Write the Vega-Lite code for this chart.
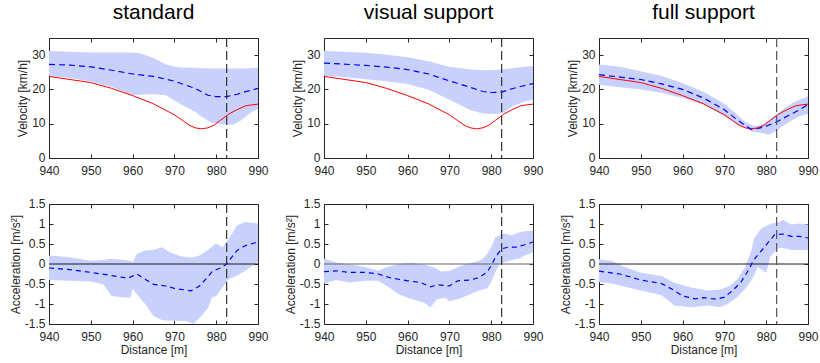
{
  "$schema": "https://vega.github.io/schema/vega-lite/v6.json",
  "padding": {"left": 9, "top": 2, "right": 5, "bottom": 5},
  "bounds": "flush",
  "columns": 3,
  "spacing": {"row": 46, "column": 66},
  "datasets": {
    "ref": [
      {"x": 940, "v": 23.8}, {"x": 945, "v": 22.9}, {"x": 950, "v": 22.0}, {"x": 955, "v": 20.3},
      {"x": 960, "v": 18.2}, {"x": 965, "v": 15.8}, {"x": 970, "v": 12.6}, {"x": 972, "v": 10.9},
      {"x": 973.5, "v": 9.6}, {"x": 975, "v": 8.8}, {"x": 976.5, "v": 8.5}, {"x": 978, "v": 8.8},
      {"x": 979.5, "v": 9.6}, {"x": 981, "v": 11.0}, {"x": 983, "v": 12.8}, {"x": 985, "v": 14.1},
      {"x": 987, "v": 15.2}, {"x": 988.5, "v": 15.5}, {"x": 990, "v": 15.7}
    ],
    "marker": [{"x": 982.5}],
    "zero": [{"y": 0}],
    "vs_band": [
      {"x": 940, "lo": 24.0, "hi": 31.2}, {"x": 945, "lo": 23.3, "hi": 31.0}, {"x": 950, "lo": 22.3, "hi": 30.8},
      {"x": 955, "lo": 20.7, "hi": 30.8}, {"x": 960, "lo": 18.3, "hi": 30.8}, {"x": 962, "lo": 18.5, "hi": 30.5},
      {"x": 965, "lo": 18.6, "hi": 29.2}, {"x": 968, "lo": 18.3, "hi": 27.3}, {"x": 970, "lo": 16.8, "hi": 26.6},
      {"x": 972, "lo": 15.4, "hi": 26.4}, {"x": 975, "lo": 13.4, "hi": 26.3}, {"x": 977, "lo": 11.7, "hi": 26.2},
      {"x": 979, "lo": 10.2, "hi": 26.1}, {"x": 981, "lo": 9.9, "hi": 26.1}, {"x": 984, "lo": 9.7, "hi": 26.1},
      {"x": 986, "lo": 11.0, "hi": 26.1}, {"x": 988, "lo": 13.0, "hi": 26.2}, {"x": 990, "lo": 14.4, "hi": 26.3}
    ],
    "vs_mean": [
      {"x": 940, "m": 27.3}, {"x": 945, "m": 27.1}, {"x": 950, "m": 26.6}, {"x": 955, "m": 25.6},
      {"x": 960, "m": 24.5}, {"x": 965, "m": 23.8}, {"x": 970, "m": 22.4}, {"x": 975, "m": 20.3},
      {"x": 978, "m": 18.3}, {"x": 980, "m": 17.9}, {"x": 982.5, "m": 17.9}, {"x": 985, "m": 18.6},
      {"x": 987.5, "m": 19.5}, {"x": 990, "m": 20.3}
    ],
    "vv_band": [
      {"x": 940, "lo": 24.0, "hi": 31.2}, {"x": 945, "lo": 23.6, "hi": 31.0}, {"x": 950, "lo": 23.0, "hi": 30.7},
      {"x": 955, "lo": 22.4, "hi": 30.1}, {"x": 960, "lo": 21.6, "hi": 29.4}, {"x": 965, "lo": 19.9, "hi": 28.2},
      {"x": 970, "lo": 17.0, "hi": 26.6}, {"x": 975, "lo": 14.0, "hi": 25.8}, {"x": 978, "lo": 13.0, "hi": 25.6},
      {"x": 980, "lo": 12.8, "hi": 25.6}, {"x": 982.5, "lo": 13.0, "hi": 25.8}, {"x": 985, "lo": 15.0, "hi": 26.2},
      {"x": 988, "lo": 16.5, "hi": 26.6}, {"x": 990, "lo": 17.0, "hi": 26.8}
    ],
    "vv_mean": [
      {"x": 940, "m": 27.7}, {"x": 950, "m": 27.0}, {"x": 955, "m": 26.5}, {"x": 960, "m": 25.8},
      {"x": 965, "m": 24.5}, {"x": 970, "m": 22.5}, {"x": 975, "m": 20.6}, {"x": 978, "m": 19.4},
      {"x": 980, "m": 19.1}, {"x": 982.5, "m": 19.2}, {"x": 985, "m": 20.2}, {"x": 987.5, "m": 21.0},
      {"x": 990, "m": 21.7}
    ],
    "vf_band": [
      {"x": 940, "lo": 21.4, "hi": 27.3}, {"x": 945, "lo": 20.6, "hi": 26.6}, {"x": 950, "lo": 20.0, "hi": 25.3},
      {"x": 955, "lo": 19.0, "hi": 23.9}, {"x": 960, "lo": 17.5, "hi": 21.9}, {"x": 965, "lo": 15.6, "hi": 19.3},
      {"x": 970, "lo": 12.2, "hi": 15.8}, {"x": 973, "lo": 9.9, "hi": 12.7}, {"x": 975, "lo": 8.6, "hi": 10.5},
      {"x": 977, "lo": 7.6, "hi": 9.3}, {"x": 979, "lo": 7.3, "hi": 9.7}, {"x": 980.5, "lo": 6.8, "hi": 10.8},
      {"x": 982, "lo": 7.6, "hi": 12.3}, {"x": 984, "lo": 9.3, "hi": 14.2}, {"x": 986, "lo": 10.9, "hi": 15.8},
      {"x": 988, "lo": 12.2, "hi": 17.0}, {"x": 990, "lo": 12.9, "hi": 18.0}
    ],
    "vf_mean": [
      {"x": 940, "m": 24.3}, {"x": 945, "m": 23.6}, {"x": 950, "m": 22.9}, {"x": 955, "m": 21.6},
      {"x": 960, "m": 20.0}, {"x": 965, "m": 17.5}, {"x": 970, "m": 14.1}, {"x": 973, "m": 11.2},
      {"x": 975, "m": 9.5}, {"x": 976.5, "m": 8.3}, {"x": 978, "m": 8.6}, {"x": 980, "m": 9.3},
      {"x": 982.5, "m": 10.5}, {"x": 985, "m": 12.2}, {"x": 988, "m": 14.1}, {"x": 990, "m": 15.6}
    ],
    "as_band": [
      {"x": 940, "lo": -0.40, "hi": 0.21}, {"x": 945, "lo": -0.42, "hi": 0.17}, {"x": 950, "lo": -0.44, "hi": 0.08},
      {"x": 953, "lo": -0.51, "hi": 0.10}, {"x": 955, "lo": -0.80, "hi": 0.13}, {"x": 958, "lo": -0.84, "hi": 0.10},
      {"x": 959.5, "lo": -0.84, "hi": 0.08}, {"x": 960, "lo": -0.61, "hi": 0.04}, {"x": 961, "lo": -0.75, "hi": 0.25},
      {"x": 963, "lo": -1.00, "hi": 0.34}, {"x": 965, "lo": -1.30, "hi": 0.35}, {"x": 967, "lo": -1.40, "hi": 0.42},
      {"x": 969, "lo": -1.42, "hi": 0.29}, {"x": 971, "lo": -1.42, "hi": 0.21}, {"x": 973, "lo": -1.43, "hi": 0.17},
      {"x": 974.5, "lo": -1.50, "hi": 0.17}, {"x": 976, "lo": -1.35, "hi": 0.21}, {"x": 978, "lo": -1.10, "hi": 0.35},
      {"x": 979, "lo": -0.84, "hi": 0.43}, {"x": 980, "lo": -0.80, "hi": 0.51}, {"x": 981.5, "lo": -0.59, "hi": 0.42},
      {"x": 983, "lo": -0.38, "hi": 0.63}, {"x": 985, "lo": -0.29, "hi": 0.97}, {"x": 987, "lo": -0.17, "hi": 1.05},
      {"x": 990, "lo": 0.06, "hi": 1.01}
    ],
    "as_mean": [
      {"x": 940, "m": -0.10}, {"x": 945, "m": -0.14}, {"x": 950, "m": -0.21}, {"x": 955, "m": -0.29},
      {"x": 958, "m": -0.34}, {"x": 959, "m": -0.35}, {"x": 961, "m": -0.25}, {"x": 963, "m": -0.38},
      {"x": 965, "m": -0.51}, {"x": 968, "m": -0.55}, {"x": 970, "m": -0.61}, {"x": 974, "m": -0.67},
      {"x": 976, "m": -0.55}, {"x": 978, "m": -0.32}, {"x": 979, "m": -0.19}, {"x": 981, "m": -0.10},
      {"x": 982.5, "m": 0.0}, {"x": 984, "m": 0.21}, {"x": 985, "m": 0.34}, {"x": 987, "m": 0.46},
      {"x": 990, "m": 0.55}
    ],
    "av_band": [
      {"x": 940, "lo": -0.49, "hi": 0.13}, {"x": 943, "lo": -0.40, "hi": 0.04}, {"x": 946, "lo": -0.46, "hi": 0.0},
      {"x": 950, "lo": -0.42, "hi": -0.08}, {"x": 953, "lo": -0.42, "hi": -0.17}, {"x": 955, "lo": -0.55, "hi": -0.08},
      {"x": 958, "lo": -0.76, "hi": 0.0}, {"x": 961, "lo": -0.88, "hi": 0.04}, {"x": 963, "lo": -0.94, "hi": 0.0},
      {"x": 964, "lo": -0.97, "hi": -0.02}, {"x": 965.5, "lo": -1.08, "hi": -0.06}, {"x": 967, "lo": -0.88, "hi": -0.12},
      {"x": 968, "lo": -0.86, "hi": -0.19}, {"x": 969, "lo": -0.84, "hi": -0.18}, {"x": 970, "lo": -0.93, "hi": -0.17},
      {"x": 972, "lo": -0.88, "hi": -0.08}, {"x": 974, "lo": -0.80, "hi": 0.0}, {"x": 975, "lo": -0.75, "hi": 0.02},
      {"x": 977, "lo": -0.67, "hi": 0.08}, {"x": 978, "lo": -0.64, "hi": 0.13}, {"x": 979, "lo": -0.61, "hi": 0.25},
      {"x": 980, "lo": -0.45, "hi": 0.42}, {"x": 981, "lo": -0.20, "hi": 0.67}, {"x": 982, "lo": 0.0, "hi": 0.72},
      {"x": 983, "lo": 0.04, "hi": 0.76}, {"x": 985, "lo": 0.10, "hi": 0.72}, {"x": 987, "lo": 0.15, "hi": 0.80},
      {"x": 988, "lo": 0.21, "hi": 0.82}, {"x": 990, "lo": 0.29, "hi": 0.83}
    ],
    "av_mean": [
      {"x": 940, "m": -0.19}, {"x": 943, "m": -0.17}, {"x": 946, "m": -0.21}, {"x": 950, "m": -0.21},
      {"x": 953, "m": -0.25}, {"x": 956, "m": -0.35}, {"x": 960, "m": -0.42}, {"x": 963, "m": -0.46},
      {"x": 965.5, "m": -0.57}, {"x": 967, "m": -0.52}, {"x": 970, "m": -0.55}, {"x": 972, "m": -0.42},
      {"x": 975, "m": -0.40}, {"x": 977, "m": -0.34}, {"x": 979, "m": -0.21}, {"x": 980, "m": -0.04},
      {"x": 981, "m": 0.17}, {"x": 982.5, "m": 0.38}, {"x": 984, "m": 0.42}, {"x": 986, "m": 0.42},
      {"x": 988, "m": 0.48}, {"x": 990, "m": 0.55}
    ],
    "af_band": [
      {"x": 940, "lo": -0.45, "hi": 0.12}, {"x": 943, "lo": -0.49, "hi": 0.08}, {"x": 946, "lo": -0.56, "hi": -0.07},
      {"x": 950, "lo": -0.66, "hi": -0.22}, {"x": 955, "lo": -0.78, "hi": -0.30}, {"x": 958, "lo": -1.04, "hi": -0.47},
      {"x": 962, "lo": -1.08, "hi": -0.59}, {"x": 966, "lo": -1.04, "hi": -0.66}, {"x": 969, "lo": -1.08, "hi": -0.64},
      {"x": 971, "lo": -0.99, "hi": -0.56}, {"x": 973, "lo": -0.83, "hi": -0.40}, {"x": 975, "lo": -0.62, "hi": -0.07},
      {"x": 976.5, "lo": -0.40, "hi": 0.35}, {"x": 977, "lo": -0.30, "hi": 0.61}, {"x": 978, "lo": -0.07, "hi": 0.78},
      {"x": 979, "lo": -0.15, "hi": 0.90}, {"x": 980, "lo": -0.22, "hi": 0.95}, {"x": 981, "lo": 0.19, "hi": 1.0},
      {"x": 983, "lo": 0.40, "hi": 1.05}, {"x": 984, "lo": 0.40, "hi": 1.10}, {"x": 986, "lo": 0.35, "hi": 0.99},
      {"x": 988, "lo": 0.35, "hi": 1.01}, {"x": 990, "lo": 0.35, "hi": 0.99}
    ],
    "af_mean": [
      {"x": 940, "m": -0.18}, {"x": 945, "m": -0.25}, {"x": 950, "m": -0.40}, {"x": 955, "m": -0.49},
      {"x": 958, "m": -0.66}, {"x": 960, "m": -0.80}, {"x": 963, "m": -0.87}, {"x": 965, "m": -0.84},
      {"x": 968, "m": -0.88}, {"x": 970, "m": -0.83}, {"x": 972, "m": -0.66}, {"x": 974, "m": -0.45},
      {"x": 976, "m": -0.11}, {"x": 977, "m": 0.10}, {"x": 979, "m": 0.35}, {"x": 980, "m": 0.48},
      {"x": 982, "m": 0.73}, {"x": 984, "m": 0.75}, {"x": 986, "m": 0.69}, {"x": 988, "m": 0.69},
      {"x": 990, "m": 0.65}
    ]
  },
  "concat": [
    {
      "width": 209, "height": 120,
      "title": {"text": "standard"},
      "layer": [
        {"data": {"name": "vs_band"}, "mark": {"type": "area", "color": "#c8d0fc", "opacity": 1},
         "encoding": {
           "x": {"field": "x", "type": "quantitative", "scale": {"domain": [940, 990], "nice": false}, "axis": {"orient": "bottom", "values": [940, 950, 960, 970, 980, 990], "title": null}},
           "y": {"field": "lo", "type": "quantitative", "scale": {"domain": [0, 35], "nice": false}, "axis": {"orient": "left", "values": [0, 10, 20, 30], "title": "Velocity [km/h]"}},
           "y2": {"field": "hi"}}},
        {"data": {"name": "ref"}, "mark": {"type": "line", "color": "#ff0000", "strokeWidth": 1},
         "encoding": {
           "x": {"field": "x", "type": "quantitative", "axis": {"orient": "top", "values": [940, 950, 960, 970, 980, 990], "labels": false, "title": null}},
           "y": {"field": "v", "type": "quantitative", "axis": {"orient": "right", "values": [0, 10, 20, 30], "labels": false, "title": null}}}},
        {"data": {"name": "vs_mean"}, "mark": {"type": "line", "color": "#0000ff", "strokeDash": [6, 4], "strokeWidth": 1.2},
         "encoding": {"x": {"field": "x", "type": "quantitative", "axis": null}, "y": {"field": "m", "type": "quantitative", "axis": null}}},
        {"data": {"name": "marker"}, "mark": {"type": "rule", "color": "#333333", "strokeDash": [9, 4], "strokeWidth": 1.2},
         "encoding": {"x": {"field": "x", "type": "quantitative", "axis": null}}}
      ],
      "resolve": {"axis": {"x": "independent", "y": "independent"}}
    },
    {
      "width": 209, "height": 120,
      "title": {"text": "visual support"},
      "layer": [
        {"data": {"name": "vv_band"}, "mark": {"type": "area", "color": "#c8d0fc", "opacity": 1},
         "encoding": {
           "x": {"field": "x", "type": "quantitative", "scale": {"domain": [940, 990], "nice": false}, "axis": {"orient": "bottom", "values": [940, 950, 960, 970, 980, 990], "title": null}},
           "y": {"field": "lo", "type": "quantitative", "scale": {"domain": [0, 35], "nice": false}, "axis": {"orient": "left", "values": [0, 10, 20, 30], "title": "Velocity [km/h]"}},
           "y2": {"field": "hi"}}},
        {"data": {"name": "ref"}, "mark": {"type": "line", "color": "#ff0000", "strokeWidth": 1},
         "encoding": {
           "x": {"field": "x", "type": "quantitative", "axis": {"orient": "top", "values": [940, 950, 960, 970, 980, 990], "labels": false, "title": null}},
           "y": {"field": "v", "type": "quantitative", "axis": {"orient": "right", "values": [0, 10, 20, 30], "labels": false, "title": null}}}},
        {"data": {"name": "vv_mean"}, "mark": {"type": "line", "color": "#0000ff", "strokeDash": [6, 4], "strokeWidth": 1.2},
         "encoding": {"x": {"field": "x", "type": "quantitative", "axis": null}, "y": {"field": "m", "type": "quantitative", "axis": null}}},
        {"data": {"name": "marker"}, "mark": {"type": "rule", "color": "#333333", "strokeDash": [9, 4], "strokeWidth": 1.2},
         "encoding": {"x": {"field": "x", "type": "quantitative", "axis": null}}}
      ],
      "resolve": {"axis": {"x": "independent", "y": "independent"}}
    },
    {
      "width": 209, "height": 120,
      "title": {"text": "full support"},
      "layer": [
        {"data": {"name": "vf_band"}, "mark": {"type": "area", "color": "#c8d0fc", "opacity": 1},
         "encoding": {
           "x": {"field": "x", "type": "quantitative", "scale": {"domain": [940, 990], "nice": false}, "axis": {"orient": "bottom", "values": [940, 950, 960, 970, 980, 990], "title": null}},
           "y": {"field": "lo", "type": "quantitative", "scale": {"domain": [0, 35], "nice": false}, "axis": {"orient": "left", "values": [0, 10, 20, 30], "title": "Velocity [km/h]"}},
           "y2": {"field": "hi"}}},
        {"data": {"name": "ref"}, "mark": {"type": "line", "color": "#ff0000", "strokeWidth": 1},
         "encoding": {
           "x": {"field": "x", "type": "quantitative", "axis": {"orient": "top", "values": [940, 950, 960, 970, 980, 990], "labels": false, "title": null}},
           "y": {"field": "v", "type": "quantitative", "axis": {"orient": "right", "values": [0, 10, 20, 30], "labels": false, "title": null}}}},
        {"data": {"name": "vf_mean"}, "mark": {"type": "line", "color": "#0000ff", "strokeDash": [6, 4], "strokeWidth": 1.2},
         "encoding": {"x": {"field": "x", "type": "quantitative", "axis": null}, "y": {"field": "m", "type": "quantitative", "axis": null}}},
        {"data": {"name": "marker"}, "mark": {"type": "rule", "color": "#555555", "strokeDash": [9, 4], "strokeWidth": 1.2},
         "encoding": {"x": {"field": "x", "type": "quantitative", "axis": null}}}
      ],
      "resolve": {"axis": {"x": "independent", "y": "independent"}}
    },
    {
      "width": 209, "height": 120,
      "layer": [
        {"data": {"name": "as_band"}, "mark": {"type": "area", "color": "#c8d0fc", "opacity": 1},
         "encoding": {
           "x": {"field": "x", "type": "quantitative", "scale": {"domain": [940, 990], "nice": false}, "axis": {"orient": "bottom", "values": [940, 950, 960, 970, 980, 990], "title": "Distance [m]"}},
           "y": {"field": "lo", "type": "quantitative", "scale": {"domain": [-1.5, 1.5], "nice": false}, "axis": {"orient": "left", "values": [-1.5, -1, -0.5, 0, 0.5, 1, 1.5], "labelExpr": "'' + datum.value", "title": "Acceleration [m/s²]"}},
           "y2": {"field": "hi"}}},
        {"data": {"name": "zero"}, "mark": {"type": "rule", "color": "#1a1a1a", "strokeWidth": 1},
         "encoding": {"y": {"field": "y", "type": "quantitative", "axis": {"orient": "right", "values": [-1.5, -1, -0.5, 0, 0.5, 1, 1.5], "labels": false, "title": null}}}},
        {"data": {"name": "as_mean"}, "mark": {"type": "line", "color": "#0000ff", "strokeDash": [5, 4], "strokeWidth": 1.2},
         "encoding": {"x": {"field": "x", "type": "quantitative", "axis": {"orient": "top", "values": [940, 950, 960, 970, 980, 990], "labels": false, "title": null}}, "y": {"field": "m", "type": "quantitative", "axis": null}}},
        {"data": {"name": "marker"}, "mark": {"type": "rule", "color": "#333333", "strokeDash": [9, 4], "strokeWidth": 1.2},
         "encoding": {"x": {"field": "x", "type": "quantitative", "axis": null}}}
      ],
      "resolve": {"axis": {"x": "independent", "y": "independent"}}
    },
    {
      "width": 209, "height": 120,
      "layer": [
        {"data": {"name": "av_band"}, "mark": {"type": "area", "color": "#c8d0fc", "opacity": 1},
         "encoding": {
           "x": {"field": "x", "type": "quantitative", "scale": {"domain": [940, 990], "nice": false}, "axis": {"orient": "bottom", "values": [940, 950, 960, 970, 980, 990], "title": "Distance [m]"}},
           "y": {"field": "lo", "type": "quantitative", "scale": {"domain": [-1.5, 1.5], "nice": false}, "axis": {"orient": "left", "values": [-1.5, -1, -0.5, 0, 0.5, 1, 1.5], "labelExpr": "'' + datum.value", "title": "Acceleration [m/s²]"}},
           "y2": {"field": "hi"}}},
        {"data": {"name": "zero"}, "mark": {"type": "rule", "color": "#666666", "strokeWidth": 1.2},
         "encoding": {"y": {"field": "y", "type": "quantitative", "axis": {"orient": "right", "values": [-1.5, -1, -0.5, 0, 0.5, 1, 1.5], "labels": false, "title": null}}}},
        {"data": {"name": "av_mean"}, "mark": {"type": "line", "color": "#0000ff", "strokeDash": [5, 4], "strokeWidth": 1.2},
         "encoding": {"x": {"field": "x", "type": "quantitative", "axis": {"orient": "top", "values": [940, 950, 960, 970, 980, 990], "labels": false, "title": null}}, "y": {"field": "m", "type": "quantitative", "axis": null}}},
        {"data": {"name": "marker"}, "mark": {"type": "rule", "color": "#333333", "strokeDash": [9, 4], "strokeWidth": 1.2},
         "encoding": {"x": {"field": "x", "type": "quantitative", "axis": null}}}
      ],
      "resolve": {"axis": {"x": "independent", "y": "independent"}}
    },
    {
      "width": 209, "height": 120,
      "layer": [
        {"data": {"name": "af_band"}, "mark": {"type": "area", "color": "#c8d0fc", "opacity": 1},
         "encoding": {
           "x": {"field": "x", "type": "quantitative", "scale": {"domain": [940, 990], "nice": false}, "axis": {"orient": "bottom", "values": [940, 950, 960, 970, 980, 990], "title": "Distance [m]"}},
           "y": {"field": "lo", "type": "quantitative", "scale": {"domain": [-1.5, 1.5], "nice": false}, "axis": {"orient": "left", "values": [-1.5, -1, -0.5, 0, 0.5, 1, 1.5], "labelExpr": "'' + datum.value", "title": "Acceleration [m/s²]"}},
           "y2": {"field": "hi"}}},
        {"data": {"name": "zero"}, "mark": {"type": "rule", "color": "#1a1a1a", "strokeWidth": 1},
         "encoding": {"y": {"field": "y", "type": "quantitative", "axis": {"orient": "right", "values": [-1.5, -1, -0.5, 0, 0.5, 1, 1.5], "labels": false, "title": null}}}},
        {"data": {"name": "af_mean"}, "mark": {"type": "line", "color": "#0000ff", "strokeDash": [5, 4], "strokeWidth": 1.2},
         "encoding": {"x": {"field": "x", "type": "quantitative", "axis": {"orient": "top", "values": [940, 950, 960, 970, 980, 990], "labels": false, "title": null}}, "y": {"field": "m", "type": "quantitative", "axis": null}}},
        {"data": {"name": "marker"}, "mark": {"type": "rule", "color": "#555555", "strokeDash": [9, 4], "strokeWidth": 1.2},
         "encoding": {"x": {"field": "x", "type": "quantitative", "axis": null}}}
      ],
      "resolve": {"axis": {"x": "independent", "y": "independent"}}
    }
  ],
  "config": {
    "view": {"stroke": null},
    "font": "Liberation Sans",
    "axis": {
      "grid": false, "domainColor": "#262626", "tickColor": "#262626", "labelColor": "#262626", "titleColor": "#262626",
      "labelFontSize": 12, "titleFontSize": 12, "titleFontWeight": "normal", "tickSize": -4, "labelPadding": 8, "titlePadding": 2,
      "labelFont": "Liberation Sans", "titleFont": "Liberation Sans", "domainWidth": 1, "labelFlush": false, "labelOverlap": false
    },
    "axisX": {"labelPadding": 11, "titlePadding": 2},
    "axisY": {"labelOffset": -1},
    "title": {"fontSize": 21, "fontWeight": "normal", "font": "Liberation Sans", "color": "#000000", "frame": "group", "offset": 14}
  }
}
